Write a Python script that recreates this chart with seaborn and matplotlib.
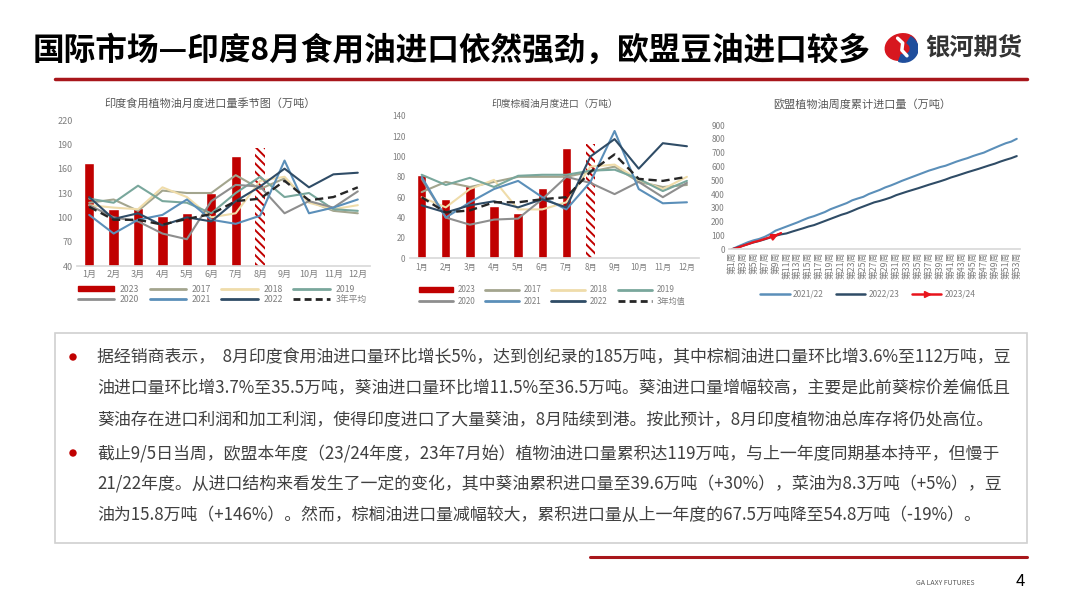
import numpy as np
import pandas as pd
import seaborn as sns
import matplotlib.pyplot as plt
from matplotlib.patches import Patch, Ellipse, Wedge, Rectangle
from matplotlib.lines import Line2D

sns.set_theme(style="white")
plt.rcParams['font.family'] = ['Noto Sans CJK SC', 'DejaVu Sans']
plt.rcParams['hatch.linewidth'] = 1.4

# ---------------- 数据 ----------------
months = ["1月", "2月", "3月", "4月", "5月", "6月", "7月", "8月", "9月", "10月", "11月", "12月"]
years = ["2017", "2018", "2019", "2020", "2021", "2022"]

# 印度食用植物油月度进口量（万吨）
edible_2023 = [167, 110, 112, 102, 105, 130, 176, 185]
edible_lines = {
    "2017": [118, 122, 108, 133, 130, 130, 152, 135, 148, 120, 108, 105],
    "2018": [115, 112, 110, 137, 125, 100, 105, 145, 150, 118, 110, 115],
    "2019": [123, 118, 139, 120, 118, 105, 130, 150, 125, 130, 110, 108],
    "2020": [115, 100, 95, 80, 73, 120, 140, 138, 105, 120, 112, 132],
    "2021": [103, 80, 97, 103, 122, 97, 92, 102, 170, 105, 112, 122],
    "2022": [125, 98, 105, 90, 100, 95, 120, 138, 160, 137, 153, 155],
}
edible_avg = [113, 97, 97, 91, 98, 104, 120, 123, 145, 121, 125, 137]

# 印度棕榈油月度进口（万吨）
palm_2023 = [82, 58, 72, 51, 44, 69, 108, 112]
palm_lines = {
    "2017": [65, 75, 70, 75, 80, 80, 80, 85, 90, 75, 70, 72],
    "2018": [60, 50, 68, 77, 48, 48, 55, 90, 92, 77, 68, 80],
    "2019": [82, 72, 79, 70, 81, 82, 82, 86, 87, 78, 66, 76],
    "2020": [78, 40, 33, 38, 39, 58, 80, 74, 63, 75, 60, 74],
    "2021": [80, 40, 55, 68, 76, 60, 48, 75, 125, 68, 54, 55],
    "2022": [52, 45, 52, 56, 50, 58, 50, 100, 117, 88, 113, 110],
}
palm_avg = [60, 45, 47, 55, 55, 58, 60, 85, 102, 78, 76, 80]

# 欧盟植物油周度累计进口量（万吨）
weeks = list(range(1, 54))
week_labels = ["第%d周" % w for w in weeks]
eu_2122 = [0, 18, 35, 52, 65, 75, 90, 110, 135, 150, 165, 180, 195, 212, 228, 240,
           255, 270, 290, 305, 320, 335, 355, 368, 380, 400, 415, 430, 448, 462, 478,
           495, 510, 525, 540, 555, 570, 582, 595, 605, 620, 635, 648, 660, 675, 688,
           700, 718, 735, 752, 768, 780, 800]
eu_2223 = [0, 12, 25, 38, 50, 60, 72, 85, 98, 108, 115, 128, 140, 152, 165, 175,
           190, 205, 220, 235, 250, 262, 278, 295, 310, 325, 340, 350, 362, 375, 392,
           405, 418, 430, 442, 455, 468, 480, 492, 505, 520, 532, 545, 558, 570, 582,
           595, 608, 620, 635, 648, 660, 675]
eu_2324 = [0, 10, 25, 38, 52, 62, 75, 88, 100, 118]

# ---------------- 颜色 ----------------
red = "#c00000"
year_colors = {"2017": "#a3a58e", "2018": "#efdcaa", "2019": "#79a79c",
               "2020": "#8e8e8e", "2021": "#5b8fb9", "2022": "#2f4c66"}
tick_gray = "#7f7f7f"
title_gray = "#595959"

fig = plt.figure(figsize=(10.8, 6.08), dpi=100)
W, H = 1080, 608


def fx(x):
    return x / W


def fy(y):
    return 1 - y / H


def style_axis(ax, size=6.5):
    for s in ["top", "right", "left"]:
        ax.spines[s].set_visible(False)
    ax.spines["bottom"].set_color("#d9d9d9")
    ax.tick_params(axis="both", length=0, colors=tick_gray, labelsize=size, pad=3)
    ax.set_xlabel("")
    ax.set_ylabel("")


def seasonal_chart(ax, bars, lines, avg, bar_w, ylim, yticks, avg_label, size):
    bar_df = pd.DataFrame({"month": months[:len(bars)], "value": bars})
    sns.barplot(data=bar_df, x="month", y="value", order=months, color=red,
                width=bar_w, saturation=1, ax=ax)
    last = ax.patches[len(bars) - 1]
    last.set_facecolor("white")
    last.set_edgecolor(red)
    last.set_hatch("\\\\\\\\")
    last.set_linewidth(0)
    for yr in years:
        sns.lineplot(x=months, y=lines[yr], sort=False, color=year_colors[yr],
                     linewidth=1.5, ax=ax)
    sns.lineplot(x=months, y=avg, sort=False, color="#262626", linewidth=1.7,
                 linestyle=(0, (3.5, 2)), ax=ax)
    ax.set_ylim(*ylim)
    ax.set_yticks(yticks)
    ax.set_xlim(-0.5, 11.5)
    style_axis(ax, size)
    handles = [Patch(color=red, label="2023")]
    handles += [Line2D([], [], color=year_colors[y], lw=2, label=y) for y in years]
    handles.append(Line2D([], [], color="#262626", lw=2, ls=(0, (2.5, 1.5)), label=avg_label))
    # 按行排列：2023,2017,2018,2019 / 2020,2021,2022,均值
    order = [0, 4, 1, 5, 2, 6, 3, 7]
    return [handles[i] for i in order]


# ---------- 图1 ----------
ax1 = fig.add_axes([fx(77), fy(266), fx(293), 146 / H])
h1 = seasonal_chart(ax1, edible_2023, edible_lines, edible_avg, 0.42,
                    (40, 220), range(40, 221, 30), "3年平均", 6.5)
fig.legend(handles=h1, ncol=4, loc="upper center", bbox_to_anchor=(fx(222), fy(277)),
           frameon=False, fontsize=6.3, labelcolor=tick_gray, handlelength=4.2,
           handleheight=0.5, columnspacing=1.2, handletextpad=0.6, labelspacing=0.1)
fig.text(fx(210), fy(103), "印度食用植物油月度进口量季节图（万吨）", ha="center", va="center",
         fontsize=8, color=title_gray)

# ---------- 图2 ----------
ax2 = fig.add_axes([fx(409.6), fy(258.3), fx(289.4), 142.6 / H])
h2 = seasonal_chart(ax2, palm_2023, palm_lines, palm_avg, 0.39,
                    (0, 140), range(0, 141, 20), "3年均值", 5.8)
fig.legend(handles=h2, ncol=4, loc="upper center", bbox_to_anchor=(fx(552), fy(278)),
           frameon=False, fontsize=5.8, labelcolor=tick_gray, handlelength=4.2,
           handleheight=0.5, columnspacing=1.2, handletextpad=0.6, labelspacing=0.3)
fig.text(fx(555), fy(104), "印度棕榈油月度进口（万吨）", ha="center", va="center",
         fontsize=7, color=title_gray)

# ---------- 图3 ----------
ax3 = fig.add_axes([fx(729), fy(249.3), fx(290.5), 124.3 / H])
c2122, c2223 = "#5b8fb9", "#2f4c66"
sns.lineplot(x=weeks, y=eu_2122, color=c2122, linewidth=1.5, ax=ax3)
sns.lineplot(x=weeks, y=eu_2223, color=c2223, linewidth=1.5, ax=ax3)
sns.lineplot(x=weeks[:len(eu_2324)], y=eu_2324, color="#e8141c", linewidth=1.6, ax=ax3)
n = len(eu_2324)
ax3.annotate("", xy=(weeks[n - 1], eu_2324[-1]), xytext=(weeks[n - 2], eu_2324[-2]),
             arrowprops=dict(arrowstyle="-|>", color="#e8141c", lw=1.6, mutation_scale=9))
ax3.set_xlim(0.5, 53.5)
ax3.set_ylim(0, 900)
ax3.set_yticks(range(0, 901, 100))
ax3.set_xticks(weeks[::2])
ax3.set_xticklabels(week_labels[::2], rotation=90)
style_axis(ax3)
ax3.tick_params(axis="x", labelsize=6.3, pad=2)
ax3.tick_params(axis="y", labelsize=6)
h3 = [Line2D([], [], color=c2122, lw=1.8, label="2021/22"),
      Line2D([], [], color=c2223, lw=1.8, label="2022/23"),
      Line2D([], [], color="#e8141c", lw=1.8, marker=">", markersize=5,
             markevery=[1], label="2023/24")]
fig.legend(handles=h3, ncol=3, loc="center", bbox_to_anchor=(fx(868), fy(294)),
           frameon=False, fontsize=6, labelcolor=tick_gray, handlelength=3.5,
           columnspacing=1.5, handletextpad=0.4)
fig.text(fx(862), fy(104), "欧盟植物油周度累计进口量（万吨）", ha="center", va="center",
         fontsize=8, color=title_gray)

# ---------- 标题与装饰 ----------
fig.text(fx(33), fy(51), "国际市场—印度8月食用油进口依然强劲，欧盟豆油进口较多",
         ha="left", va="center", fontsize=22.8, fontweight="bold", color="black")
fig.add_artist(Line2D([fx(55), fx(1027)], [fy(79), fy(79)], color="#a8161b", lw=2.5))
fig.add_artist(Line2D([fx(590), fx(1027)], [fy(557), fy(557)], color="#a8161b", lw=2.2))

# 银河期货 logo
logo = fig.add_axes([fx(884), fy(63), fx(34), 32 / H])
logo.set_xlim(-1, 1)
logo.set_ylim(-1, 1)
logo.axis("off")
logo.add_patch(Ellipse((0, 0), 1.9, 1.6, angle=25, color="#d7171f"))
logo.add_patch(Wedge((0.15, -0.1), 0.85, -110, 60, width=0.45, color="#1f4e9c"))
logo.plot([-0.2, 0.1, 0.05, 0.35], [0.55, 0.25, -0.2, -0.55], color="white", lw=2.5)
fig.text(fx(925), fy(47), "银河期货", ha="left", va="center", fontsize=17.5,
         fontweight="bold", color="#333333")

# 文本框
fig.add_artist(Rectangle((fx(55), fy(543)), fx(972), 210 / H, fill=False,
                         edgecolor="#d0d0d0", lw=1.2))
para_lines = [
    "据经销商表示，  8月印度食用油进口量环比增长5%，达到创纪录的185万吨，其中棕榈油进口量环比增3.6%至112万吨，豆",
    "油进口量环比增3.7%至35.5万吨，葵油进口量环比增11.5%至36.5万吨。葵油进口量增幅较高，主要是此前葵棕价差偏低且",
    "葵油存在进口利润和加工利润，使得印度进口了大量葵油，8月陆续到港。按此预计，8月印度植物油总库存将仍处高位。",
    "截止9/5日当周，欧盟本年度（23/24年度，23年7月始）植物油进口量累积达119万吨，与上一年度同期基本持平，但慢于",
    "21/22年度。从进口结构来看发生了一定的变化，其中葵油累积进口量至39.6万吨（+30%），菜油为8.3万吨（+5%），豆",
    "油为15.8万吨（+146%）。然而，棕榈油进口量减幅较大，累积进口量从上一年度的67.5万吨降至54.8万吨（-19%）。",
]
line_y = [357, 388, 420, 453, 484, 515]
for txt, yy in zip(para_lines, line_y):
    fig.text(fx(97), fy(yy), txt, ha="left", va="center", fontsize=12.2, color="#404040")
for yy in [357, 453]:
    fig.add_artist(Ellipse((fx(73), fy(yy)), 6 / W, 6 / H, color="#c00000"))

fig.text(fx(945), fy(583), "GA LAXY FUTURES", ha="center", va="center", fontsize=5,
         color="#595959")
fig.text(fx(1020), fy(581), "4", ha="center", va="center", fontsize=12, color="black")

fig.savefig("out.png", dpi=100)
